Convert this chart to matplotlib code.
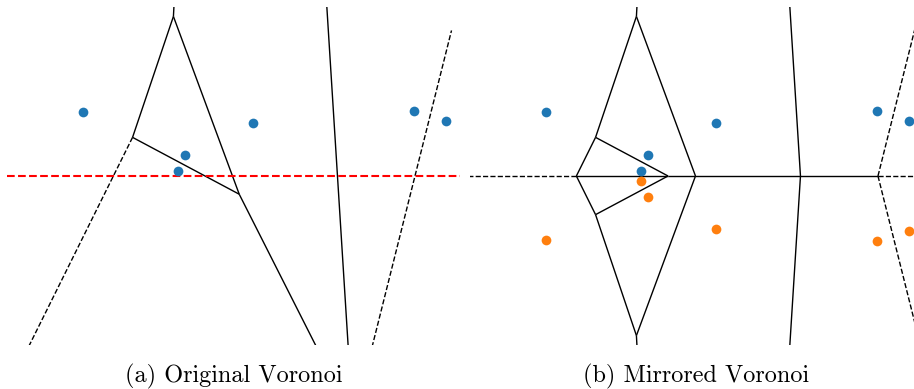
import numpy as np
import matplotlib
matplotlib.use("Agg")
import matplotlib.pyplot as plt
from matplotlib.collections import LineCollection

# Generator sites (x, y); the reflection axis is y = 0
site_x = [0.503, 1.176, 1.131, 1.631, 2.697, 2.907]
site_y = [0.377, 0.1225, 0.028, 0.311, 0.386, 0.327]
mirror_y = 0.0

x_limits = (0.0, 3.0)
y_limits = (-1.0, 1.0)

captions = ["(a) Original Voronoi", "(b) Mirrored Voronoi"]


def voronoi_ridges(pts):
    """Return finite and semi-infinite Voronoi ridges of a small point set."""
    pts = np.asarray(pts, dtype=float)
    n = len(pts)
    span = np.ptp(pts, axis=0).max()
    finite, infinite = [], []
    for i in range(n):
        for j in range(i + 1, n):
            pi, pj = pts[i], pts[j]
            mid = 0.5 * (pi + pj)
            t = (pj - pi) / np.linalg.norm(pj - pi)
            d = np.array([-t[1], t[0]])
            lo, hi = -np.inf, np.inf
            ok = True
            for k in range(n):
                if k in (i, j):
                    continue
                pk = pts[k]
                a = 2.0 * np.dot(d, pk - pi)
                b = np.dot(pk, pk) - np.dot(pi, pi) - 2.0 * np.dot(mid, pk - pi)
                if abs(a) < 1e-12:
                    if b < 0:
                        ok = False
                        break
                elif a > 0:
                    hi = min(hi, b / a)
                else:
                    lo = max(lo, b / a)
            if not ok or hi - lo <= 1e-9:
                continue
            if np.isfinite(lo) and np.isfinite(hi):
                finite.append([mid + lo * d, mid + hi * d])
            elif np.isfinite(lo) or np.isfinite(hi):
                s0 = lo if np.isfinite(lo) else hi
                direction = d if np.isfinite(lo) else -d
                v = mid + s0 * d
                infinite.append([v, v + direction * span])
    return finite, infinite


def draw_voronoi(ax, pts):
    finite, infinite = voronoi_ridges(pts)
    ax.add_collection(LineCollection(finite, colors="k", linewidths=1.0,
                                     linestyle="solid"))
    ax.add_collection(LineCollection(infinite, colors="k", linewidths=1.0,
                                     linestyle="dashed"))


orig = np.column_stack([site_x, site_y])
mirrored = np.column_stack([site_x, 2 * mirror_y - np.asarray(site_y)])

W, H = 914, 389
fig = plt.figure(figsize=(W / 100, H / 100), dpi=100)

ax_w, ax_h = 453, 338
ax_bottom = 44
ax_a = fig.add_axes([7 / W, ax_bottom / H, ax_w / W, ax_h / H])
ax_b = fig.add_axes([470 / W, ax_bottom / H, ax_w / W, ax_h / H])

# (a) Voronoi of the original sites with the reflection axis
draw_voronoi(ax_a, orig)
ax_a.axhline(mirror_y, color="r", linestyle="--", linewidth=1.5)
ax_a.plot(orig[:, 0], orig[:, 1], "o", color="C0", ms=7, mew=0, zorder=3)

# (b) Voronoi of the sites together with their reflections
draw_voronoi(ax_b, np.vstack([orig, mirrored]))
ax_b.plot(orig[:, 0], orig[:, 1], "o", color="C0", ms=7, mew=0, zorder=3)
ax_b.plot(mirrored[:, 0], mirrored[:, 1], "o", color="C1", ms=7, mew=0, zorder=3)

for ax in (ax_a, ax_b):
    ax.set_xlim(*x_limits)
    ax.set_ylim(*y_limits)
    ax.axis("off")

for ax, cap in zip((ax_a, ax_b), captions):
    ax.text(0.5, -0.092, cap, transform=ax.transAxes, ha="center", va="center",
            fontfamily="cmr10", fontsize=17.5)

fig.savefig("out.png", dpi=100)
